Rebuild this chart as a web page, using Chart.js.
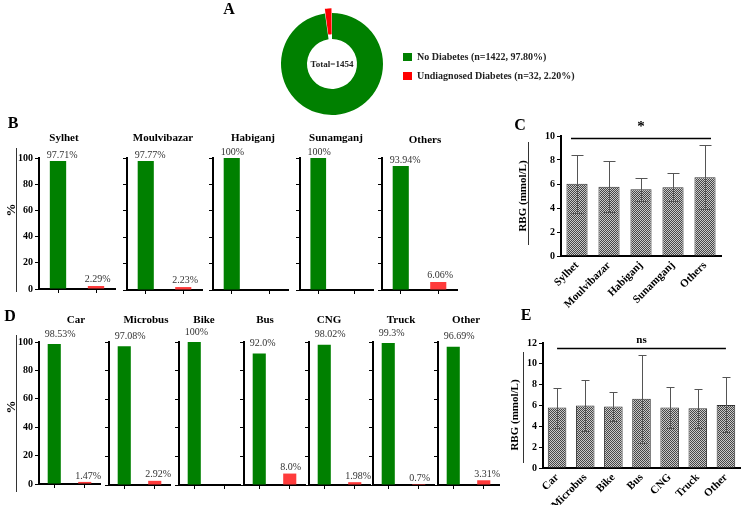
<!DOCTYPE html>
<html>
<head>
<meta charset="utf-8">
<script src="https://cdn.jsdelivr.net/npm/chart.js@4.4.1/dist/chart.umd.min.js"></script>
<style>
  body { margin: 0; background: #fff; }
  #fig { position: relative; width: 745px; height: 505px; overflow: hidden; background: #fff; font-family: "Liberation Serif", "Times New Roman", serif; }
  #fig canvas { position: absolute; }
  .txt { position: absolute; white-space: nowrap; transform: translate(-50%, -50%); color: #000; font-weight: bold; }
  .vline { position: absolute; width: 0; border-left: 1px solid #333; }
</style>
</head>
<body>
<div id="fig"></div>
<script>
// ---- data ----
const statusLabels = ['No Diabetes (n=1422, 97.80%)', 'Undiagnosed Diabetes (n=32, 2.20%)'];
const statusCounts = [1422, 32];

const districts = ['Sylhet', 'Moulvibazar', 'Habiganj', 'Sunamganj', 'Others'];
const districtNoDiabetes = [97.71, 97.77, 100, 100, 93.94];
const districtUndiagnosed = [2.29, 2.23, 0, 0, 6.06];
const districtNoText = ['97.71%', '97.77%', '100%', '100%', '93.94%'];
const districtUndText = ['2.29%', '2.23%', '', '', '6.06%'];

const vehicles = ['Car', 'Microbus', 'Bike', 'Bus', 'CNG', 'Truck', 'Other'];
const vehicleNoDiabetes = [98.53, 97.08, 100, 92.0, 98.02, 99.3, 96.69];
const vehicleUndiagnosed = [1.47, 2.92, 0, 8.0, 1.98, 0.7, 3.31];
const vehicleNoText = ['98.53%', '97.08%', '100%', '92.0%', '98.02%', '99.3%', '96.69%'];
const vehicleUndText = ['1.47%', '2.92%', '', '8.0%', '1.98%', '0.7%', '3.31%'];

const districtRbgMean = [6.02, 5.78, 5.56, 5.72, 6.56];
const districtRbgSd = [2.42, 2.14, 0.95, 1.17, 2.65];
const vehicleRbgMean = [5.8, 6.0, 5.9, 6.65, 5.8, 5.74, 6.06];
const vehicleRbgSd = [1.92, 2.45, 1.42, 4.23, 1.94, 1.86, 2.65];

const percentTicks = { min: 0, max: 100, step: 20 };
const districtRbgTicks = { min: 0, max: 10, step: 2 };
const vehicleRbgTicks = { min: 0, max: 12, step: 2 };

// ---- layout (pixel positions of the panels) ----
const bAxisX = [39, 127, 213, 300, 382];
const bRight = [115, 202, 288, 373, 457];
const bTitleX = [64, 163, 253, 336, 425];
const dAxisX = [39, 109, 179, 244, 309, 373, 438];
const dRight = [100, 170, 240, 305, 370, 434, 499];
const dTitleX = [76, 146, 204, 265, 329, 401, 466];

const FONT = '"Liberation Serif", "Times New Roman", serif';
const GREEN = '#008000';
const RED = '#ff3b3b';
const fig = document.getElementById('fig');

function addCanvas(left, top, w, h) {
    const cv = document.createElement('canvas');
    cv.width = w; cv.height = h;
    cv.style.left = left + 'px'; cv.style.top = top + 'px';
    cv.style.width = w + 'px'; cv.style.height = h + 'px';
    fig.appendChild(cv);
    return cv;
}

function addText(text, x, y, size, rotate) {
    const d = document.createElement('div');
    d.className = 'txt';
    d.textContent = text;
    d.style.left = x + 'px'; d.style.top = y + 'px';
    d.style.fontSize = size + 'px';
    if (rotate) d.style.transform = 'translate(-50%, -50%) rotate(-90deg)';
    fig.appendChild(d);
}

function addLine(x, y1, y2) {
    const d = document.createElement('div');
    d.className = 'vline';
    d.style.left = x + 'px'; d.style.top = y1 + 'px'; d.style.height = (y2 - y1) + 'px';
    fig.appendChild(d);
}

// value labels above the small bars
const valueLabels = {
    id: 'valueLabels',
    afterDatasetsDraw(chart, args, opts) {
        const ctx = chart.ctx;
        ctx.save();
        ctx.font = '10px ' + FONT;
        ctx.fillStyle = '#333';
        ctx.textBaseline = 'bottom';
        ctx.textAlign = 'left';
        chart.getDatasetMeta(0).data.forEach((bar, i) => {
            const t = opts.texts[i];
            if (!t) return;
            ctx.fillText(t, bar.x - bar.width / 2 - 3, bar.y - opts.gaps[i]);
        });
        ctx.restore();
    }
};

// mean +/- SD whiskers and the comparison line
const errorBars = {
    id: 'errorBars',
    afterDatasetsDraw(chart, args, opts) {
        const ctx = chart.ctx;
        const y = chart.scales.y;
        const bars = chart.getDatasetMeta(0).data;
        const means = chart.data.datasets[0].data;
        ctx.save();
        ctx.strokeStyle = '#555';
        ctx.lineWidth = 1;
        ctx.beginPath();
        bars.forEach((bar, i) => {
            const x = Math.round(bar.x) + 0.5;
            const hi = Math.round(y.getPixelForValue(means[i] + opts.sd[i])) + 0.5;
            const lo = Math.round(y.getPixelForValue(means[i] - opts.sd[i])) + 0.5;
            const c = opts.cap / 2;
            ctx.moveTo(x, hi); ctx.lineTo(x, lo);
            ctx.moveTo(x - c, hi); ctx.lineTo(x + c, hi);
            ctx.moveTo(x - c, lo); ctx.lineTo(x + c, lo);
        });
        ctx.stroke();

        const first = bars[0], last = bars[bars.length - 1];
        const ly = Math.round(y.getPixelForValue(opts.lineAt)) + 0.5;
        ctx.strokeStyle = '#000';
        ctx.lineWidth = 1.3;
        ctx.beginPath();
        ctx.moveTo(first.x - opts.pad, ly);
        ctx.lineTo(last.x + opts.pad, ly);
        ctx.stroke();
        ctx.fillStyle = '#000';
        ctx.font = 'bold ' + opts.size + 'px ' + FONT;
        ctx.textAlign = 'center';
        ctx.textBaseline = 'middle';
        ctx.fillText(opts.label, (first.x + last.x) / 2, y.getPixelForValue(opts.textAt));
        ctx.restore();
    }
};

// total in the hole and the legend beside the ring
const donutExtras = {
    id: 'donutExtras',
    afterDraw(chart, args, opts) {
        const ctx = chart.ctx;
        const arc = chart.getDatasetMeta(0).data[0];
        const ds = chart.data.datasets[0];
        ctx.save();
        ctx.font = 'bold 9px ' + FONT;
        ctx.fillStyle = '#222';
        ctx.textAlign = 'center';
        ctx.textBaseline = 'middle';
        ctx.fillText(opts.text, arc.x, arc.y + 1);

        const x0 = arc.x + arc.outerRadius + opts.gap;
        ctx.font = 'bold 10px ' + FONT;
        ctx.textAlign = 'left';
        chart.data.labels.forEach((lab, i) => {
            const cy = arc.y + opts.firstRow + i * opts.rowGap;
            ctx.fillStyle = ds.backgroundColor[i];
            ctx.fillRect(x0, cy - 4, 9, 8);
            ctx.fillStyle = '#222';
            ctx.fillText(lab, x0 + 14, cy);
        });
        ctx.restore();
    }
};

function tickFont(size) {
    return { family: FONT, weight: 'bold', size: size };
}

function smallBar(axisX, right, top, chartTop, chartBottom, vals, texts, gaps, showY) {
    const wy = showY ? 23 : 6;
    const left = axisX - wy;
    const cv = addCanvas(left, top, right - left + 2, chartBottom - top + 7);
    new Chart(cv, {
        type: 'bar',
        data: {
            labels: ['No Diabetes', 'Undiagnosed Diabetes'],
            datasets: [{
                data: vals,
                backgroundColor: [GREEN, RED],
                barPercentage: 0.43,
                categoryPercentage: 1
            }]
        },
        options: {
            responsive: false,
            animation: false,
            layout: { padding: { top: chartTop - top, right: 2, left: 0, bottom: 0 } },
            plugins: {
                legend: { display: false },
                tooltip: { enabled: false },
                valueLabels: { texts: texts, gaps: gaps }
            },
            scales: {
                x: {
                    grid: { offset: false, drawOnChartArea: false, tickLength: 4, color: '#000' },
                    border: { color: '#000', width: 2 },
                    ticks: { display: false },
                    afterFit: s => { s.height = 7; }
                },
                y: {
                    min: percentTicks.min, max: percentTicks.max,
                    grid: { drawOnChartArea: false, tickLength: 4, color: '#000' },
                    border: { color: '#000', width: 2 },
                    ticks: { stepSize: percentTicks.step, display: showY, padding: 2, color: '#000', font: tickFont(10) },
                    afterFit: s => { s.width = wy; }
                }
            }
        },
        plugins: [valueLabels]
    });
}

function rbgChart(left, top, chartLeft, chartRight, chartTop, chartBottom, xh, cats, means, sds, yt, sig) {
    const wy = chartLeft - left;
    const cv = addCanvas(left, top, chartRight - left + 6, chartBottom - top + xh);
    const ctx = cv.getContext('2d');
    const tile = document.createElement('canvas');
    tile.width = 2; tile.height = 2;
    const g = tile.getContext('2d');
    g.fillStyle = '#c8c8c8'; g.fillRect(0, 0, 2, 2);
    g.fillStyle = '#464646'; g.fillRect(0, 0, 1, 1); g.fillRect(1, 1, 1, 1);
    const pattern = ctx.createPattern(tile, 'repeat');

    new Chart(cv, {
        type: 'bar',
        data: {
            labels: cats,
            datasets: [{
                data: means,
                backgroundColor: pattern,
                borderColor: '#333',
                borderWidth: 1,
                barPercentage: 0.66,
                categoryPercentage: 1
            }]
        },
        options: {
            responsive: false,
            animation: false,
            layout: { padding: { top: chartTop - top, right: 6, left: 0, bottom: 0 } },
            plugins: {
                legend: { display: false },
                tooltip: { enabled: false },
                errorBars: Object.assign({ sd: sds }, sig)
            },
            scales: {
                x: {
                    grid: { display: true, drawOnChartArea: false, drawTicks: false },
                    border: { color: '#000', width: 2 },
                    ticks: { minRotation: 45, maxRotation: 45, padding: 3, color: '#000', font: tickFont(11) },
                    afterFit: s => { s.height = xh; }
                },
                y: {
                    min: yt.min, max: yt.max,
                    grid: { drawOnChartArea: false, tickLength: 4, color: '#000' },
                    border: { color: '#000', width: 2 },
                    ticks: { stepSize: yt.step, padding: 2, color: '#000', font: tickFont(10) },
                    afterFit: s => { s.width = wy; }
                }
            }
        },
        plugins: [errorBars]
    });
}

document.addEventListener('DOMContentLoaded', function() {
    // Panel A: ring sits in the left part of the canvas, legend is drawn in the padding
    const cvA = addCanvas(270, 8, 400, 112);
    new Chart(cvA, {
        type: 'doughnut',
        data: {
            labels: statusLabels,
            datasets: [{
                data: statusCounts,
                backgroundColor: [GREEN, '#ff0000'],
                borderWidth: 0,
                offset: [0, 10]
            }]
        },
        options: {
            responsive: false,
            animation: false,
            cutout: '49%',
            layout: { padding: { right: 276 } },
            plugins: {
                legend: { display: false },
                tooltip: { enabled: false },
                donutExtras: {
                    text: 'Total=' + statusCounts.reduce((a, b) => a + b, 0),
                    gap: 20, firstRow: -7, rowGap: 19
                }
            }
        },
        plugins: [donutExtras]
    });

    // Panel B
    districts.forEach((name, i) => {
        smallBar(bAxisX[i], bRight[i], 140, 158, 290,
            [districtNoDiabetes[i], districtUndiagnosed[i]],
            [districtNoText[i], districtUndText[i]], [1, 2], i === 0);
        addText(name, bTitleX[i], i === 4 ? 139 : 137, 11);
    });

    // Panel D
    vehicles.forEach((name, i) => {
        smallBar(dAxisX[i], dRight[i], 324, 342, 485,
            [vehicleNoDiabetes[i], vehicleUndiagnosed[i]],
            [vehicleNoText[i], vehicleUndText[i]], [5, 1], i === 0);
        addText(name, dTitleX[i], 319, 11);
    });

    // Panel C
    rbgChart(537, 110, 561, 721, 136, 256, 55, districts, districtRbgMean, districtRbgSd, districtRbgTicks,
        { cap: 12, pad: 6, lineAt: 9.8, textAt: 10.7, label: '*', size: 15 });

    // Panel E
    rbgChart(519, 325, 543, 740, 343, 468, 37, vehicles, vehicleRbgMean, vehicleRbgSd, vehicleRbgTicks,
        { cap: 8, pad: 0, lineAt: 11.5, textAt: 12.3, label: 'ns', size: 11 });

    // axis titles, panel letters, side rules
    addText('%', 11, 210, 13, true);
    addText('%', 11, 407, 13, true);
    addLine(16, 148, 292);
    addLine(16, 335, 492);
    addText('RBG (mmol/L)', 522, 196, 11, true);
    addText('RBG (mmol/L)', 514, 415, 11, true);
    addLine(528, 142, 245);
    addLine(523, 352, 463);

    addText('A', 229, 9, 16);
    addText('B', 13, 123, 16);
    addText('C', 520, 125, 16);
    addText('D', 10, 316, 16);
    addText('E', 526, 315, 16);
});
</script>
</body>
</html>
